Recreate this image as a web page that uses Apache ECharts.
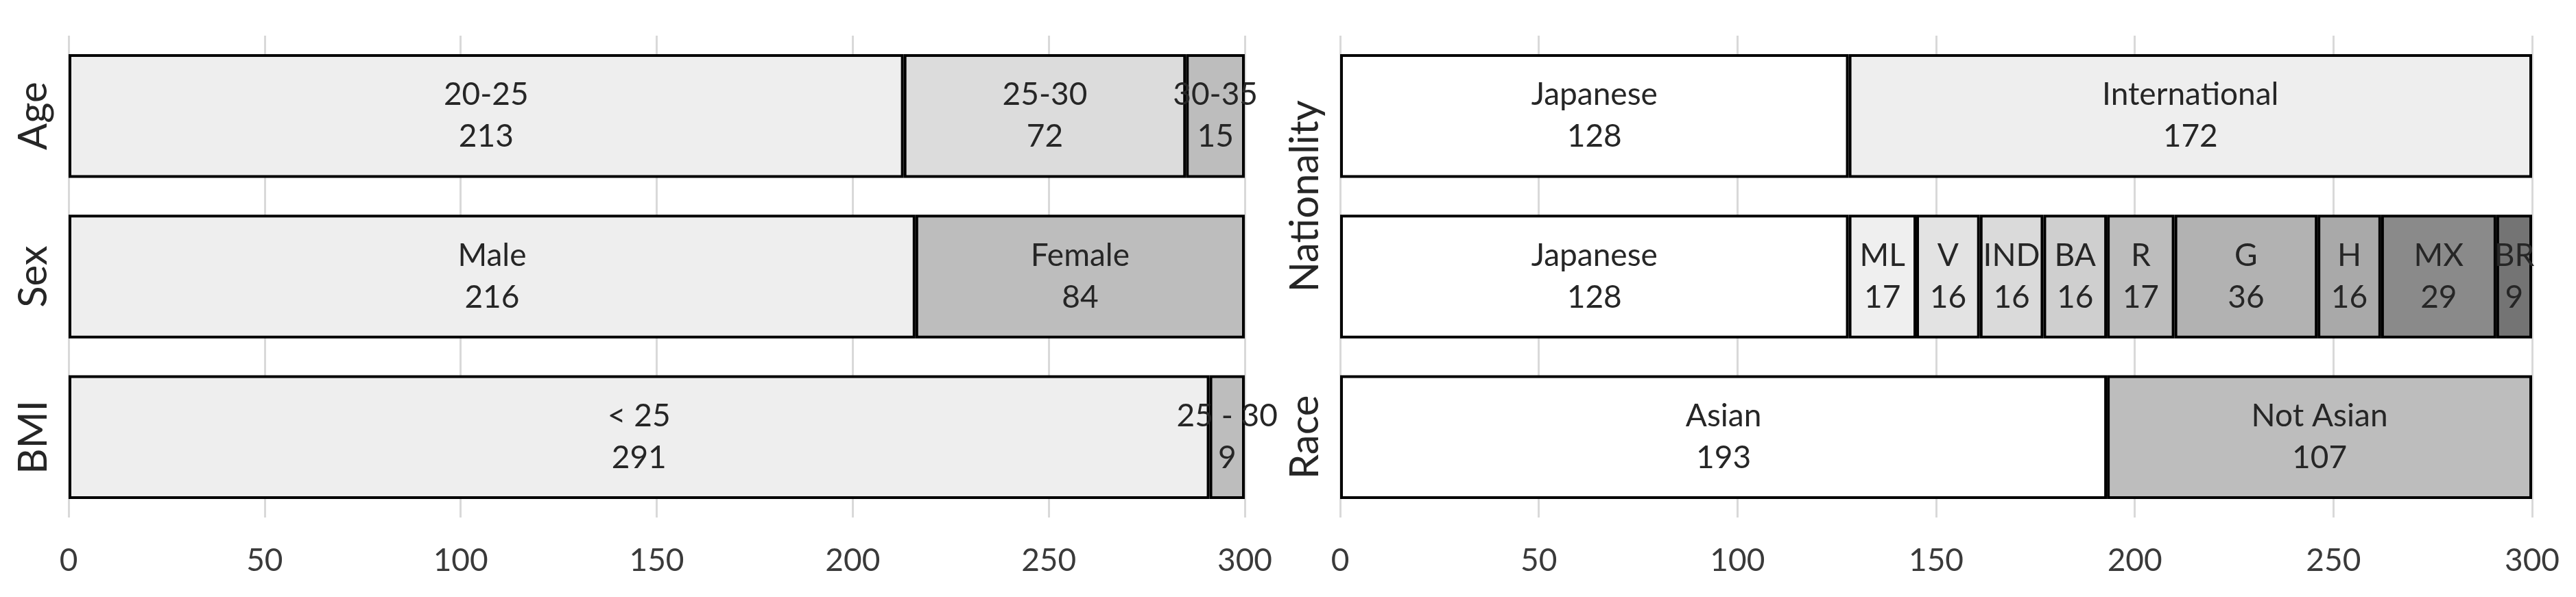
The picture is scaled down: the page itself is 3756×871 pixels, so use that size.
<!DOCTYPE html>
<html>
<head>
<meta charset="utf-8">
<script src="https://cdn.jsdelivr.net/npm/echarts@6/dist/echarts.min.js"></script>
<style>
  html, body { margin: 0; padding: 0; background: #fff; }
  #chart { width: 3756px; height: 871px; }
</style>
</head>
<body>
<div id="chart"></div>
<script>
// left panel rows, bottom to top
const leftRows = ['BMI', 'Sex', 'Age'];
const ageGroups = ['20-25', '25-30', '30-35'];
const ageCounts = [213, 72, 15];
const sexGroups = ['Male', 'Female'];
const sexCounts = [216, 84];
const bmiGroups = ['< 25', '25 - 30'];
const bmiCounts = [291, 9];

// right panel rows, bottom to top
const rightRows = ['Race', 'Nationality detail', 'Nationality'];
const natGroups = ['Japanese', 'International'];
const natCounts = [128, 172];
const natDetailGroups = ['Japanese', 'ML', 'V', 'IND', 'BA', 'R', 'G', 'H', 'MX', 'BR'];
const natDetailCounts = [128, 17, 16, 16, 16, 17, 36, 16, 29, 9];
const raceGroups = ['Asian', 'Not Asian'];
const raceCounts = [193, 107];

const xTicks = [0, 50, 100, 150, 200, 250, 300];

// fills
const ageColors = ['#eeeeee', '#dcdcdc', '#bdbdbd'];
const sexColors = ['#eeeeee', '#bdbdbd'];
const bmiColors = ['#eeeeee', '#bdbdbd'];
const natColors = ['#ffffff', '#eeeeee'];
const natDetailColors = ['#ffffff', '#efefef', '#e3e3e3', '#dadada', '#cfcfcf', '#bdbdbd', '#b2b2b2', '#a9a9a9', '#8a8a8a', '#747474'];
const raceColors = ['#ffffff', '#bdbdbd'];

const FONT = 'Lato, "Open Sans", sans-serif';
const TXT = '#262626';

let series = [];

function addRow(rowIndex, groups, counts, colors, gridIdx) {
  groups.forEach((g, i) => {
    let data = [null, null, null].map(() => '-');
    data[rowIndex] = counts[i];
    series.push({
      name: g,
      type: 'bar',
      stack: 'grid' + gridIdx,
      xAxisIndex: gridIdx,
      yAxisIndex: gridIdx === 0 ? 0 : 1,
      barWidth: '77%',
      data: data,
      itemStyle: { color: colors[i], borderColor: '#000', borderWidth: 4 },
      label: {
        show: true,
        position: 'inside',
        formatter: '{a}\n{c}',
        fontFamily: FONT,
        fontSize: 46,
        lineHeight: 61,
        color: TXT
      },
      emphasis: { disabled: true }
    });
  });
}

addRow(2, ageGroups, ageCounts, ageColors, 0);
addRow(1, sexGroups, sexCounts, sexColors, 0);
addRow(0, bmiGroups, bmiCounts, bmiColors, 0);

addRow(2, natGroups, natCounts, natColors, 1);
addRow(1, natDetailGroups, natDetailCounts, natDetailColors, 1);
addRow(0, raceGroups, raceCounts, raceColors, 1);

function valueAxis(gridIdx) {
  return {
    type: 'value',
    gridIndex: gridIdx,
    min: xTicks[0],
    max: xTicks[xTicks.length - 1],
    interval: 50,
    axisLine: { show: false },
    axisTick: { show: false },
    splitLine: { show: true, lineStyle: { color: '#d9d9d9', width: 3 } },
    axisLabel: { fontFamily: FONT, fontSize: 46, color: '#3a3a3a', margin: 40 }
  };
}

const chart = echarts.init(document.getElementById('chart'));

chart.setOption({
  animation: false,
  backgroundColor: '#fff',
  grid: [
    { left: 100, top: 52, width: 1715, height: 703 },
    { left: 1954, top: 52, width: 1738, height: 703 }
  ],
  xAxis: [valueAxis(0), valueAxis(1)],
  yAxis: [
    {
      type: 'category',
      gridIndex: 0,
      data: leftRows,
      axisLine: { show: false },
      axisTick: { show: false },
      axisLabel: {
        rotate: 90,
        fontFamily: FONT,
        fontSize: 58,
        color: TXT,
        margin: 22
      }
    },
    {
      type: 'category',
      gridIndex: 1,
      data: rightRows,
      position: 'right',
      show: false
    },
    {
      // label-only axis so "Nationality" sits across its two rows
      type: 'value',
      gridIndex: 1,
      position: 'left',
      min: 0,
      max: 3,
      interval: 0.5,
      axisLine: { show: false },
      axisTick: { show: false },
      splitLine: { show: false },
      axisLabel: {
        rotate: 90,
        fontFamily: FONT,
        fontSize: 58,
        color: TXT,
        margin: 22,
        formatter: function (v) {
          if (v === 0.5) return rightRows[0];
          if (v === 2) return rightRows[2];
          return '';
        }
      }
    }
  ],
  series: series
});
</script>
</body>
</html>
